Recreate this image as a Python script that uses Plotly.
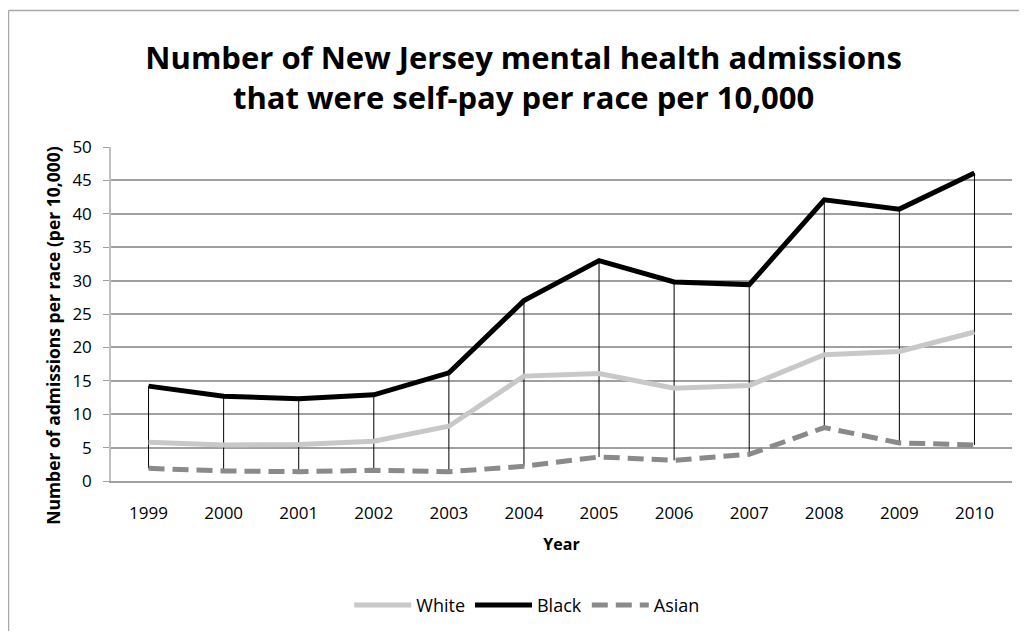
import plotly.graph_objects as go

years = ["1999", "2000", "2001", "2002", "2003", "2004", "2005", "2006", "2007", "2008", "2009", "2010"]
white = [5.8, 5.4, 5.45, 5.95, 8.2, 15.7, 16.1, 13.9, 14.3, 18.9, 19.4, 22.3]
black = [14.2, 12.7, 12.3, 12.9, 16.2, 27.0, 33.0, 29.8, 29.4, 42.1, 40.7, 46.1]
asian = [1.9, 1.5, 1.4, 1.6, 1.4, 2.2, 3.6, 3.1, 4.0, 8.0, 5.7, 5.4]
y_ticks = [0, 5, 10, 15, 20, 25, 30, 35, 40, 45, 50]

FONT = "Open Sans"

# high-low lines (between highest and lowest series at each category)
hl_x, hl_y = [], []
for i, yr in enumerate(years):
    hi = max(white[i], black[i], asian[i])
    lo = min(white[i], black[i], asian[i])
    hl_x += [yr, yr, None]
    hl_y += [hi, lo, None]

fig = go.Figure()
fig.add_trace(go.Scatter(x=hl_x, y=hl_y, mode="lines", line=dict(color="#000000", width=1),
                         showlegend=False, hoverinfo="skip"))
fig.add_trace(go.Scatter(x=years, y=white, name="White", mode="lines",
                         line=dict(color="#c8c8c8", width=5)))
fig.add_trace(go.Scatter(x=years, y=black, name="Black", mode="lines",
                         line=dict(color="#000000", width=5)))
fig.add_trace(go.Scatter(x=years, y=asian, name="Asian", mode="lines",
                         line=dict(color="#8a8a8a", width=5, dash="16px,8px")))

fig.update_layout(
    width=1011, height=623,
    paper_bgcolor="white", plot_bgcolor="white",
    margin=dict(l=103, r=7, t=139, b=148),
    font=dict(family=FONT, color="#000000", size=17),
    title=dict(text="<b>Number of New Jersey mental health admissions<br>that were self-pay per race per 10,000</b>",
               x=0.51, xanchor="center", y=0.902, yanchor="middle",
               font=dict(family=FONT, size=31, color="#000000")),
    xaxis=dict(type="category", categoryorder="array", categoryarray=years, range=[-0.5, 11.5],
               showgrid=False, showline=True, linecolor="#a0a0a0", linewidth=1.5,
               ticks="", tickfont=dict(size=17, family=FONT), ticklabelstandoff=16,
               title=dict(text="<b>Year</b>", font=dict(size=16, family=FONT), standoff=16)),
    yaxis=dict(range=[0, 50], tickvals=y_ticks, showgrid=True, gridcolor="#a0a0a0", gridwidth=1.5,
               showline=True, linecolor="#c0c0c0", linewidth=1.5,
               ticks="outside", ticklen=6, tickcolor="#a0a0a0", zeroline=False,
               tickfont=dict(size=17, family=FONT), ticklabelstandoff=8),
    annotations=[dict(text="<b>Number of admissions per race (per 10,000)</b>", textangle=-90,
                      xref="paper", yref="paper", x=-0.0644, y=0.4375,
                      xanchor="center", yanchor="middle", showarrow=False,
                      font=dict(size=17.5, family=FONT, color="#000000"))],
    legend=dict(orientation="h", x=0.462, xanchor="center", y=-0.372, yanchor="middle",
                font=dict(size=18, family=FONT), itemwidth=57, tracegroupgap=0),
    shapes=[
        dict(type="line", xref="paper", yref="paper", x0=-0.1138, x1=-0.1138, y0=-0.6, y1=1.409,
             line=dict(color="#a8a8a8", width=1.5), layer="below"),
        dict(type="line", xref="paper", yref="paper", x0=-0.1138, x1=1.2, y0=1.409, y1=1.409,
             line=dict(color="#a8a8a8", width=1.5), layer="below"),
    ],
)

fig.write_html("out.html")
